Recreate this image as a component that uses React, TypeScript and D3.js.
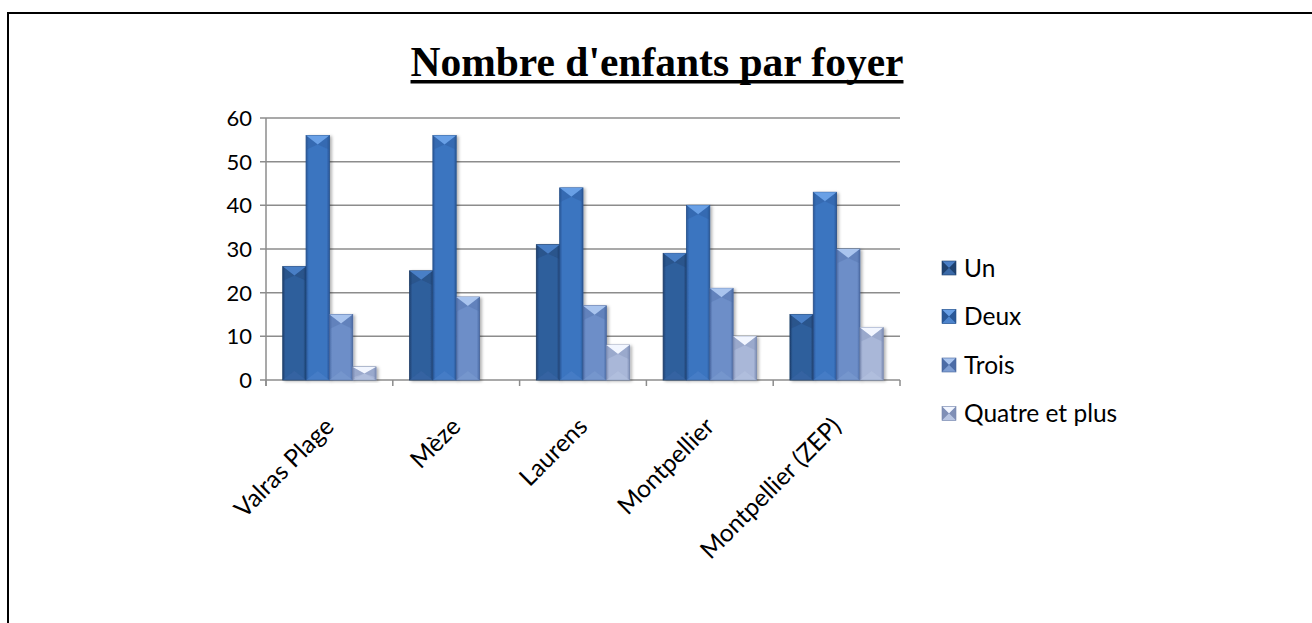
import React, { useRef, useLayoutEffect, useState } from "react";
import * as d3 from "d3";

const categories = ["Valras Plage", "Mèze", "Laurens", "Montpellier", "Montpellier (ZEP)"];
const seriesNames = ["Un", "Deux", "Trois", "Quatre et plus"];
const un = [26, 25, 31, 29, 15];
const deux = [56, 56, 44, 40, 43];
const trois = [15, 19, 17, 21, 30];
const quatre = [3, 0, 8, 10, 12];
const yTicks = [0, 10, 20, 30, 40, 50, 60];
const titleText = "Nombre d'enfants par foyer";

const seriesValues = [un, deux, trois, quatre];

const palette = [
  { edge: "#1f4270", mid: "#2f5e9c", top: "#4a7fc6", bottom: "#3b6aa8", stroke: "#1d3d68" },
  { edge: "#2a5898", mid: "#3b74c0", top: "#69a0e6", bottom: "#4d84cc", stroke: "#26508a" },
  { edge: "#4c6ca6", mid: "#6d8ec8", top: "#a9c4ee", bottom: "#7e9dd2", stroke: "#47659c" },
  { edge: "#7f8fb6", mid: "#a9b7d8", top: "#f2f6ff", bottom: "#b8c5e2", stroke: "#7787ad" },
];

const W = 1312;
const H = 623;
const plot = { left: 266, right: 900, top: 118, bottom: 380 };
const FONT = "Lato, 'Open Sans', sans-serif";

function Bar({ x, y, w, h, si }: { x: number; y: number; w: number; h: number; si: number }) {
  if (h <= 0) return null;
  const p = palette[si];
  const b = Math.min(9, h / 2, w / 2);
  const xm = x + w / 2;
  return (
    <g filter="url(#shadow)">
      <rect x={x} y={y} width={w} height={h} fill={`url(#grad${si})`} stroke={p.stroke} strokeWidth={0.8} />
      <polygon points={`${x},${y} ${x + w},${y} ${xm},${y + b}`} fill={p.top} />
      <polygon points={`${x},${y} ${xm},${y + b} ${x},${y + b * 1.6}`} fill={p.edge} opacity={0.35} />
      <polygon points={`${x + w},${y} ${xm},${y + b} ${x + w},${y + b * 1.6}`} fill={p.edge} opacity={0.35} />
      <polygon points={`${x},${y + h} ${x + w},${y + h} ${xm},${y + h - b}`} fill={p.bottom} opacity={0.5} />
    </g>
  );
}

function LegendSwatch({ x, y, s, si }: { x: number; y: number; s: number; si: number }) {
  const p = palette[si];
  const c = s / 2;
  return (
    <g>
      <rect x={x} y={y} width={s} height={s} fill={p.mid} />
      <polygon points={`${x},${y} ${x + s},${y} ${x + c},${y + c}`} fill={p.top} />
      <polygon points={`${x},${y} ${x + c},${y + c} ${x},${y + s}`} fill={p.edge} />
      <polygon points={`${x + s},${y} ${x + c},${y + c} ${x + s},${y + s}`} fill={p.edge} />
      <polygon points={`${x},${y + s} ${x + s},${y + s} ${x + c},${y + c}`} fill={p.bottom} />
      <rect x={x} y={y} width={s} height={s} fill="none" stroke={p.stroke} strokeWidth={0.6} />
    </g>
  );
}

export default function App() {
  const titleRef = useRef<SVGTextElement>(null);
  const [tw, setTw] = useState(490);
  useLayoutEffect(() => {
    if (titleRef.current) setTw(titleRef.current.getComputedTextLength());
  }, []);

  const x0 = d3.scaleBand<string>().domain(categories).range([plot.left, plot.right]).padding(0);
  const bw = x0.bandwidth();
  const gap = bw * 0.132;
  const x1 = d3.scaleBand<string>().domain(seriesNames).range([gap, bw - gap]).padding(0);
  const y = d3.scaleLinear().domain([0, 60]).range([plot.bottom, plot.top]);

  const tickXs = [...categories.map((c) => x0(c) as number), plot.right];
  const titleX = 657;

  return (
    <svg width={W} height={H} style={{ position: "absolute", left: 0, top: 0, display: "block", background: "#fff" }}>
      <defs>
        {palette.map((p, i) => (
          <linearGradient key={i} id={`grad${i}`} x1="0" x2="1" y1="0" y2="0">
            <stop offset="0%" stopColor={p.edge} />
            <stop offset="12%" stopColor={p.mid} />
            <stop offset="50%" stopColor={p.mid} />
            <stop offset="88%" stopColor={p.mid} />
            <stop offset="100%" stopColor={p.edge} />
          </linearGradient>
        ))}
        <filter id="shadow" x="-30%" y="-10%" width="160%" height="130%">
          <feDropShadow dx={2} dy={1} stdDeviation={1.5} floodColor="#000" floodOpacity={0.3} />
        </filter>
      </defs>

      <rect x={8} y={13} width={1400} height={700} fill="none" stroke="#000" strokeWidth={2} />

      <text
        ref={titleRef}
        x={titleX}
        y={76}
        textAnchor="middle"
        fontFamily="'Liberation Serif', 'Times New Roman', serif"
        fontWeight="bold"
        fontSize={41.5}
        fill="#000"
      >
        {titleText}
      </text>
      <rect x={titleX - tw / 2} y={80} width={tw} height={3.5} fill="#000" />

      {yTicks.map((t) => (
        <g key={t}>
          <line x1={plot.left - 6} x2={plot.right} y1={y(t)} y2={y(t)} stroke="#8c8c8c" strokeWidth={1.5} />
          <text x={252} y={y(t)} dy="0.36em" textAnchor="end" fontFamily={FONT} fontSize={22} fill="#000">
            {t}
          </text>
        </g>
      ))}
      <line x1={plot.left} x2={plot.left} y1={plot.top} y2={plot.bottom + 6} stroke="#8c8c8c" strokeWidth={1.5} />
      {tickXs.map((tx, i) => (
        <line key={i} x1={tx} x2={tx} y1={plot.bottom} y2={plot.bottom + 6} stroke="#8c8c8c" strokeWidth={1.5} />
      ))}

      {seriesValues.map((vals, si) =>
        vals.map((v, ci) => {
          const bx = (x0(categories[ci]) as number) + (x1(seriesNames[si]) as number);
          return <Bar key={`${si}-${ci}`} x={bx} y={y(v)} w={x1.bandwidth()} h={plot.bottom - y(v)} si={si} />;
        })
      )}

      {categories.map((c) => {
        const cx = (x0(c) as number) + bw / 2 + 6;
        const cy = 428;
        return (
          <text
            key={c}
            x={cx}
            y={cy}
            textAnchor="end"
            transform={`rotate(-45 ${cx} ${cy})`}
            fontFamily={FONT}
            fontSize={24.5}
            fill="#000"
          >
            {c}
          </text>
        );
      })}

      {seriesNames.map((s, i) => {
        const ly = 268 + i * 48.5;
        return (
          <g key={s}>
            <LegendSwatch x={942} y={ly - 7} s={14} si={i} />
            <text x={964} y={ly} dy="0.36em" fontFamily={FONT} fontSize={24.5} fill="#000">
              {s}
            </text>
          </g>
        );
      })}
    </svg>
  );
}
